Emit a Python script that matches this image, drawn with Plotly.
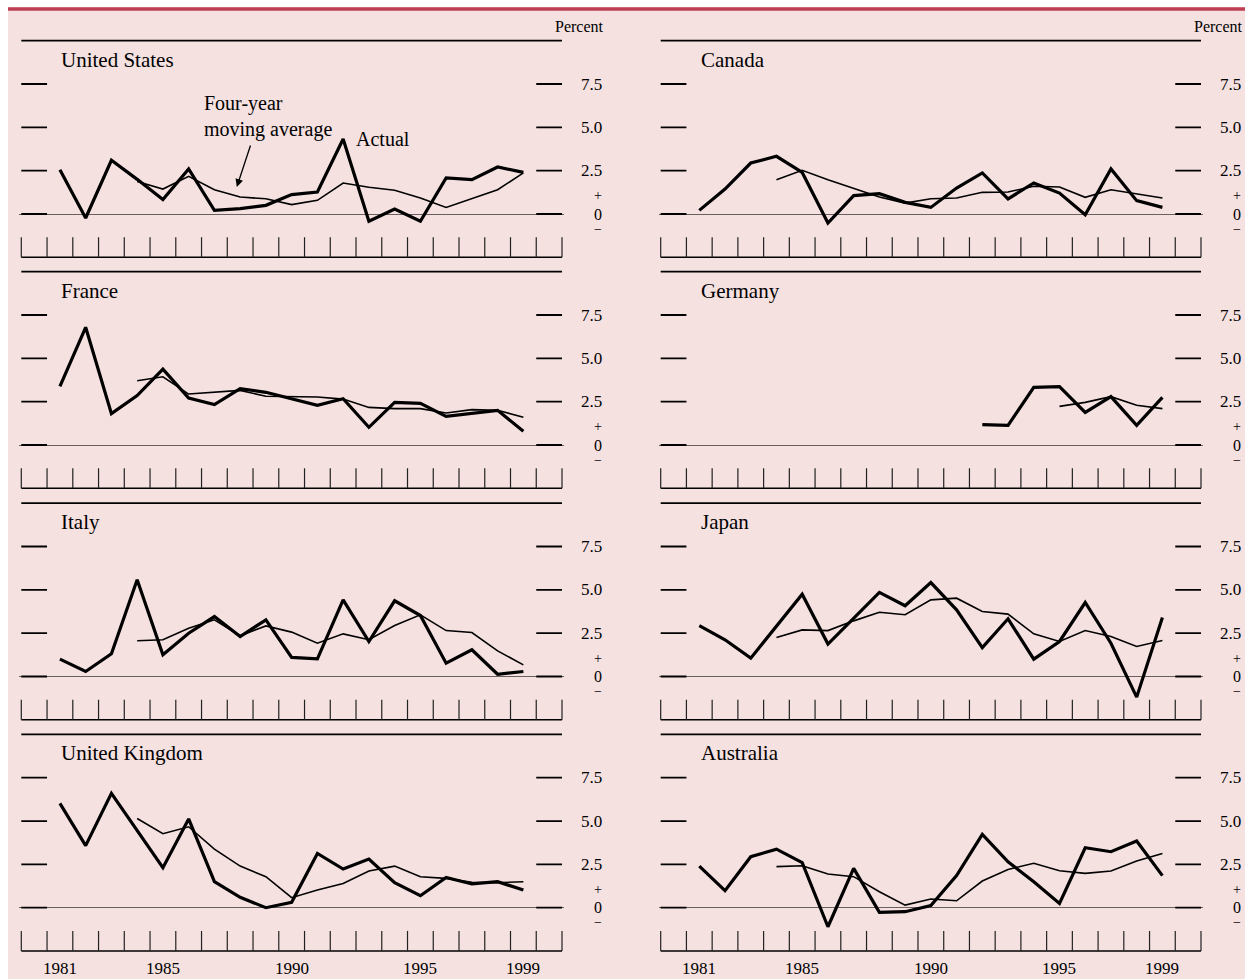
import plotly.graph_objects as go

W, H = 1245, 979

# ---------------- data (percent) ----------------
years = list(range(1981, 2000))
ma_years = list(range(1984, 2000))

us_actual = [2.56, -0.23, 3.1, 2.0, 0.83, 2.6, 0.21, 0.31, 0.5, 1.12, 1.27, 4.33, -0.42, 0.29, -0.42, 2.08, 1.98, 2.71, 2.4]
us_ma = [1.88, 1.44, 2.17, 1.4, 0.98, 0.88, 0.54, 0.79, 1.79, 1.54, 1.37, 0.92, 0.38, 0.87, 1.4, 2.37]

canada_actual = [0.21, 1.44, 2.94, 3.33, 2.4, -0.52, 1.06, 1.17, 0.67, 0.38, 1.5, 2.37, 0.87, 1.79, 1.21, -0.04, 2.6, 0.77, 0.38]
canada_ma = [1.98, 2.52, 1.98, 1.5, 0.98, 0.63, 0.88, 0.92, 1.25, 1.27, 1.6, 1.56, 0.96, 1.4, 1.15, 0.92]

france_actual = [3.38, 6.79, 1.81, 2.85, 4.38, 2.71, 2.33, 3.25, 3.04, 2.65, 2.29, 2.67, 1.02, 2.46, 2.4, 1.65, 1.81, 2.0, 0.79]
france_ma = [3.71, 3.94, 2.94, 3.06, 3.15, 2.81, 2.77, 2.77, 2.65, 2.17, 2.1, 2.1, 1.85, 2.04, 2.0, 1.6]

germany_years = list(range(1992, 2000))
germany_actual = [1.17, 1.13, 3.33, 3.37, 1.88, 2.79, 1.13, 2.75]
germany_ma_years = list(range(1995, 2000))
germany_ma = [2.23, 2.46, 2.79, 2.29, 2.1]

italy_actual = [1.0, 0.29, 1.31, 5.58, 1.25, 2.5, 3.46, 2.31, 3.27, 1.1, 1.02, 4.42, 2.02, 4.37, 3.52, 0.77, 1.54, 0.13, 0.29]
italy_ma = [2.06, 2.12, 2.79, 3.27, 2.35, 2.92, 2.56, 1.92, 2.46, 2.12, 2.94, 3.56, 2.65, 2.54, 1.48, 0.67]

japan_actual = [2.94, 2.12, 1.06, 2.92, 4.75, 1.87, 3.37, 4.85, 4.08, 5.42, 3.85, 1.67, 3.33, 1.0, 2.02, 4.27, 1.92, -1.19, 3.4]
japan_ma = [2.25, 2.69, 2.65, 3.21, 3.71, 3.56, 4.42, 4.52, 3.75, 3.6, 2.46, 2.02, 2.65, 2.31, 1.73, 2.08]

uk_actual = [6.02, 3.58, 6.6, 4.46, 2.31, 5.12, 1.5, 0.6, 0.0, 0.31, 3.13, 2.23, 2.81, 1.44, 0.69, 1.75, 1.37, 1.5, 1.02]
uk_ma = [5.15, 4.27, 4.67, 3.38, 2.4, 1.79, 0.58, 1.02, 1.4, 2.12, 2.4, 1.79, 1.69, 1.46, 1.44, 1.5]

australia_actual = [2.4, 0.98, 2.94, 3.38, 2.6, -1.1, 2.27, -0.27, -0.23, 0.12, 1.85, 4.23, 2.65, 1.5, 0.25, 3.46, 3.23, 3.85, 1.85]
australia_ma = [2.37, 2.42, 1.94, 1.79, 0.92, 0.15, 0.5, 0.4, 1.54, 2.21, 2.56, 2.13, 1.98, 2.12, 2.69, 3.13]

countries = ["United States", "Canada", "France", "Germany", "Italy", "Japan", "United Kingdom", "Australia"]
actual_years = [years, years, years, germany_years, years, years, years, years]
actual_vals = [us_actual, canada_actual, france_actual, germany_actual, italy_actual, japan_actual, uk_actual, australia_actual]
ma_x = [ma_years, ma_years, ma_years, germany_ma_years, ma_years, ma_years, ma_years, ma_years]
ma_vals = [us_ma, canada_ma, france_ma, germany_ma, italy_ma, japan_ma, uk_ma, australia_ma]

y_ticks = [0, 2.5, 5.0, 7.5]
y_tick_text = ["", "2.5", "5.0", "7.5"]
x_label_years = [1981, 1985, 1990, 1995, 1999]
year_bounds = [1979.5 + k for k in range(22)]

# ---------------- styling / layout ----------------
FONT = "Liberation Serif, Times New Roman, serif"
BG = "#F5E1E0"
RED = "#BC3F54"
X_LO, X_HI = 1979.5, 2000.5
Y_LO, Y_HI = -2.5, 10.0
PAD = 0.07   # x padding so the end rules are not clipped
PADY = 0.12  # y padding so the rules are not clipped

# pixel geometry (page margin removed, so figure px == window px)
col_px = [(21.3, 562.0), (660.7, 1201.0)]
row_zero_px = [214.0, 445.0, 676.5, 907.7]
PX_PER_UNIT = 17.33
PX_PER_YEAR = (col_px[0][1] - col_px[0][0]) / (X_HI - X_LO)

fig = go.Figure()
layout = dict(
    width=W, height=H,
    margin=dict(l=0, r=0, t=0, b=0),
    paper_bgcolor=BG,
    plot_bgcolor="rgba(0,0,0,0)",
    showlegend=False,
    font=dict(family=FONT, color="black"),
)
annotations = []
shapes = [
    # white page margins at the top and left, as in the original
    dict(type="rect", xref="paper", yref="paper", x0=0, x1=8 / W, y0=0, y1=1,
         fillcolor="white", line=dict(width=0), layer="below"),
    dict(type="rect", xref="paper", yref="paper", x0=0, x1=1, y0=1 - 7.3 / H, y1=1,
         fillcolor="white", line=dict(width=0), layer="below"),
    dict(type="line", xref="paper", yref="paper", x0=8 / W, x1=1, y0=1 - 9 / H, y1=1 - 9 / H,
         line=dict(color=RED, width=3.5), layer="below"),
]

for i, name in enumerate(countries):
    row, col = divmod(i, 2)
    xa = f"xaxis{i + 1}" if i else "xaxis"
    xid = f"x{i + 1}" if i else "x"
    ya = f"yaxis{i + 1}" if i else "yaxis"
    yid = f"y{i + 1}" if i else "y"

    x0p, x1p = col_px[col]
    x0p_pad = x0p - PAD * PX_PER_YEAR
    x1p_pad = x1p + PAD * PX_PER_YEAR
    zero = row_zero_px[row]
    top_px = zero - (Y_HI + PADY) * PX_PER_UNIT
    bot_px = zero - (Y_LO - PADY) * PX_PER_UNIT

    layout[xa] = dict(
        domain=[x0p_pad / W, x1p_pad / W], range=[X_LO - PAD, X_HI + PAD], anchor=yid,
        tickmode="array", tickvals=year_bounds, ticks="", showticklabels=False,
        showline=False, showgrid=False, zeroline=False, fixedrange=True,
    )
    layout[ya] = dict(
        domain=[1 - bot_px / H, 1 - top_px / H], range=[Y_LO - PADY, Y_HI + PADY], anchor=xid,
        tickmode="array", tickvals=y_ticks, ticks="", showticklabels=False, showline=False,
        showgrid=False, zeroline=True, zerolinecolor="#6a6060", zerolinewidth=1, fixedrange=True,
    )

    # top rule and bottom axis line across the year span
    for yv, w in [(Y_HI, 1.8), (Y_LO, 1.6)]:
        shapes.append(dict(type="line", xref=xid, yref=yid, x0=X_LO, x1=X_HI, y0=yv, y1=yv,
                           line=dict(color="black", width=w)))
    # year boundary ticks on the bottom axis
    for xb in year_bounds:
        shapes.append(dict(type="line", xref=xid, yref=yid, x0=xb, x1=xb, y0=Y_LO, y1=-1.34,
                           line=dict(color="#222", width=1.2)))
    # short scale dashes at both ends
    for v in y_ticks:
        for xa0, xa1 in [(X_LO, X_LO + 1), (X_HI - 1, X_HI)]:
            shapes.append(dict(type="line", xref=xid, yref=yid, x0=xa0, x1=xa1, y0=v, y1=v,
                               line=dict(color="black", width=1.8)))

    fig.add_trace(go.Scatter(x=ma_x[i], y=ma_vals[i], mode="lines", xaxis=xid, yaxis=yid,
                             line=dict(color="black", width=1.6), hoverinfo="skip"))
    fig.add_trace(go.Scatter(x=actual_years[i], y=actual_vals[i], mode="lines", xaxis=xid, yaxis=yid,
                             line=dict(color="black", width=3.2), hoverinfo="skip"))

    # panel title
    annotations.append(dict(xref=xid, yref=yid, x=1980.98, y=8.9, text=name, showarrow=False,
                            xanchor="left", yanchor="middle", font=dict(size=21, family=FONT)))
    # right-hand value labels
    for v, t in zip(y_ticks, y_tick_text):
        if t:
            annotations.append(dict(xref="paper", yref=yid, x=(x1p + 29) / W, y=v, text=t,
                                    showarrow=False, xanchor="center", yanchor="middle",
                                    font=dict(size=17, family=FONT)))
    for v, t, s in [(1.05, "+", 14), (0.0, "0", 16), (-0.88, "\u2212", 14)]:
        annotations.append(dict(xref="paper", yref=yid, x=(x1p + 36) / W, y=v, text=t,
                                showarrow=False, xanchor="center", yanchor="middle",
                                font=dict(size=s, family=FONT, color="black")))
    # year labels on bottom row
    if row == 3:
        for yv in x_label_years:
            annotations.append(dict(xref=xid, yref="paper", x=yv, y=1 - 968 / H, text=str(yv),
                                    showarrow=False, xanchor="center", yanchor="middle",
                                    font=dict(size=17, family=FONT)))

# "Percent" headers
for c in range(2):
    annotations.append(dict(xref="paper", yref="paper", x=(col_px[c][1] + 17) / W, y=1 - 27 / H,
                            text="Percent", showarrow=False, xanchor="center", yanchor="middle",
                            font=dict(size=16, family=FONT)))

# United States callouts
annotations.append(dict(xref="x", yref="y", x=1986.52, y=5.65, text="Four-year<br>moving average",
                        showarrow=False, xanchor="left", yanchor="middle", align="left",
                        font=dict(size=20, family=FONT)))
annotations.append(dict(xref="x", yref="y", x=1993.54, y=4.33, text="Actual", showarrow=False,
                        xanchor="center", yanchor="middle", font=dict(size=20, family=FONT)))
annotations.append(dict(xref="x", yref="y", axref="x", ayref="y", x=1987.87, y=1.56,
                        ax=1988.42, ay=4.04, text="", showarrow=True, arrowhead=2,
                        arrowsize=1.2, arrowwidth=1.3, arrowcolor="black"))

layout["annotations"] = annotations
layout["shapes"] = shapes
fig.update_layout(**layout)
fig.write_html("out.html", config={"displayModeBar": False},
               post_script="document.body.style.margin='0';document.body.style.overflow='hidden';")
